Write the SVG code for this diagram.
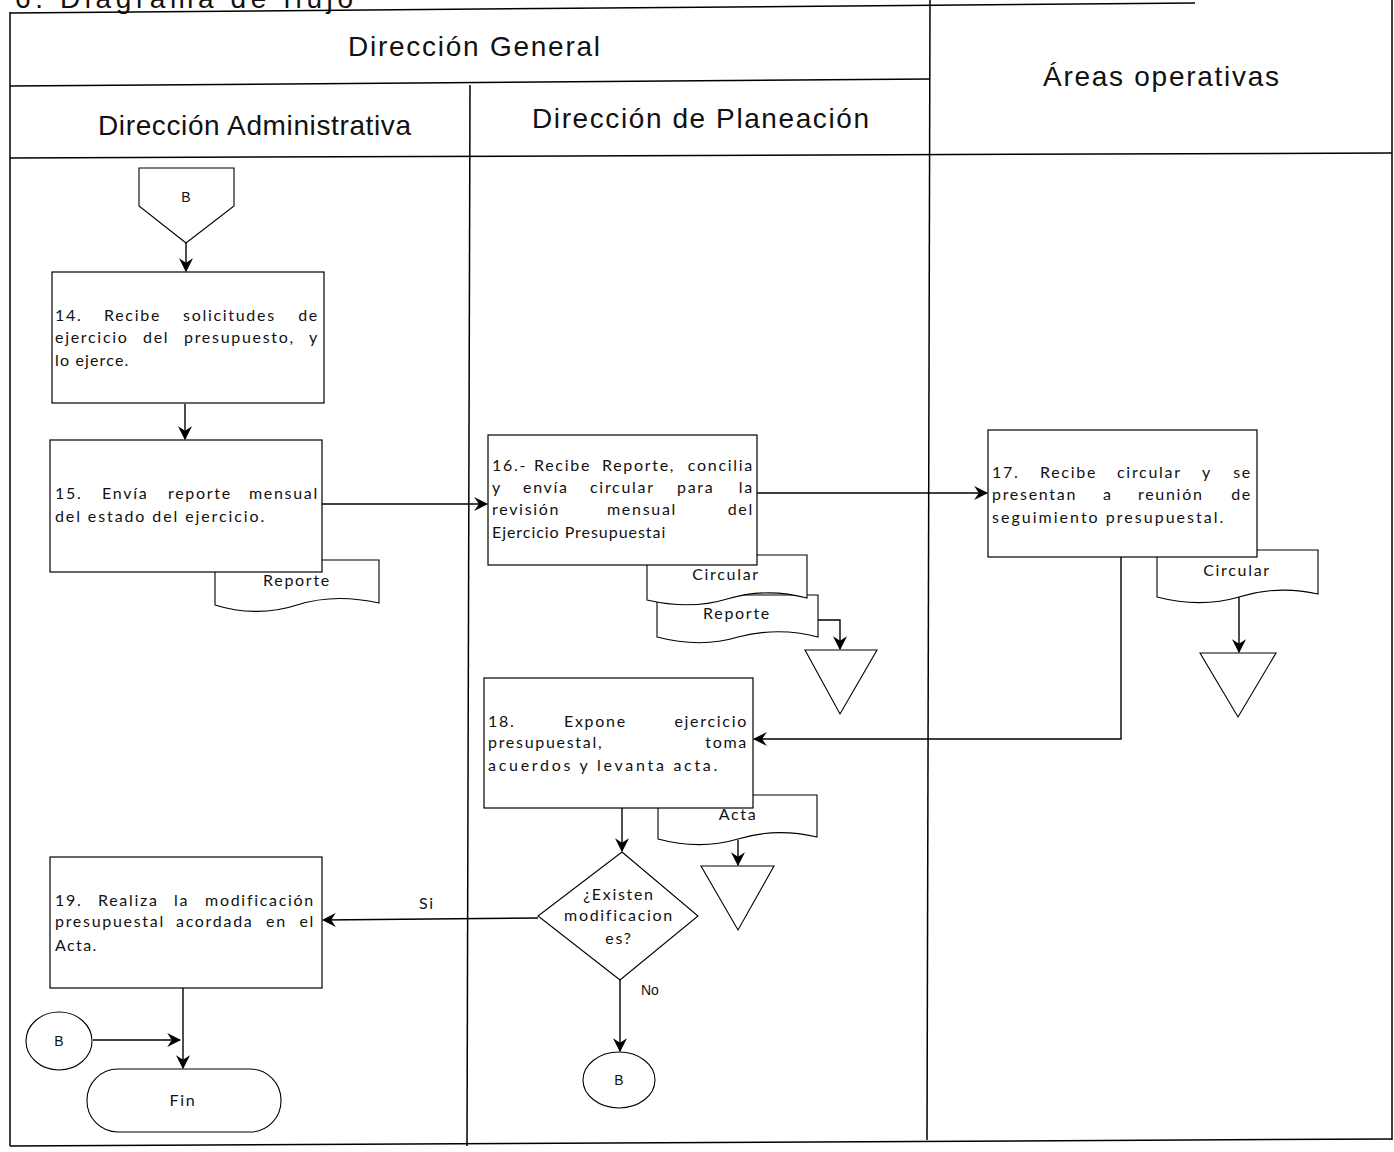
<svg xmlns="http://www.w3.org/2000/svg" width="1394" height="1152" viewBox="0 0 1394 1152">
  <defs>
    <marker id="arrow" viewBox="0 0 12 12" markerWidth="14" markerHeight="14" refX="11" refY="6" orient="auto" markerUnits="userSpaceOnUse">
      <path d="M0,0 L12,6 L0,12 L4,6 Z" fill="#000"/>
    </marker>
    <style>
      .frame { stroke: #000; stroke-width: 1.5; fill: none; }
      .box { stroke: #000; stroke-width: 1.2; fill: #fff; }
      .shape { stroke: #000; stroke-width: 1.1; fill: #fff; }
      .conn { stroke: #000; stroke-width: 1.4; fill: none; }
      .arr { marker-end: url(#arrow); }
      .head { font-family: "Liberation Sans", Arial, sans-serif; font-size: 28px; fill: #111; }
      .body { font-family: Lato, "Open Sans", sans-serif; font-size: 16px; letter-spacing: 1.7px; fill: #111; }
      .lbl { font-family: "Liberation Sans", Arial, sans-serif; font-size: 14px; fill: #111; }
      .mid { text-anchor: middle; }
      .end { text-anchor: end; }
    </style>
  </defs>

  <!-- swimlane frame -->
  <g id="lanes">
    <text class="head" x="15" y="8" font-size="32" textLength="338" lengthAdjust="spacing">6. Diagrama de flujo</text>
    <line class="frame" x1="10" y1="13" x2="1195" y2="3"/>
    <line class="frame" x1="10" y1="86" x2="930" y2="79"/>
    <line class="frame" x1="10" y1="158" x2="1392" y2="153"/>
    <line class="frame" x1="10" y1="12" x2="10" y2="1146"/>
    <line class="frame" x1="470" y1="85" x2="467" y2="1146"/>
    <line class="frame" x1="930" y1="0" x2="927" y2="1140"/>
    <line class="frame" x1="1392" y1="0" x2="1392" y2="1140"/>
    <line class="frame" x1="10" y1="1146" x2="1392" y2="1139"/>
    <text class="head mid" x="474" y="56" textLength="252" lengthAdjust="spacing">Dirección General</text>
    <text class="head mid" x="1161" y="86" textLength="236" lengthAdjust="spacing">Áreas operativas</text>
    <text class="head" x="98" y="135" textLength="313" lengthAdjust="spacing">Dirección Administrativa</text>
    <text class="head" x="532" y="128" textLength="337" lengthAdjust="spacing">Dirección de Planeación</text>
  </g>

  <!-- connectors -->
  <g id="connectors">
    <line class="conn arr" x1="186" y1="243" x2="186" y2="271"/>
    <line class="conn arr" x1="185" y1="404" x2="185" y2="439"/>
    <line class="conn arr" x1="322" y1="504" x2="487" y2="504"/>
    <line class="conn arr" x1="757" y1="493" x2="987" y2="493"/>
    <polyline class="conn arr" points="818,620 840,620 840,649"/>
    <line class="conn arr" x1="1239" y1="597" x2="1239" y2="652"/>
    <polyline class="conn arr" points="1121,557 1121,739 754,739"/>
    <line class="conn arr" x1="738" y1="840" x2="738" y2="865"/>
    <line class="conn arr" x1="622" y1="808" x2="622" y2="851"/>
    <line class="conn arr" x1="538" y1="918" x2="323" y2="920"/>
    <line class="conn arr" x1="620" y1="980" x2="620" y2="1051"/>
    <line class="conn arr" x1="183" y1="988" x2="183" y2="1068"/>
    <line class="conn arr" x1="93" y1="1040" x2="180" y2="1040"/>
    <text class="body" x="419" y="909">Si</text>
    <text class="lbl" x="641" y="995" font-size="15">No</text>
  </g>

  <!-- off-page connector B (entry) -->
  <g id="connector-b-in">
    <path class="shape" d="M139,168 H234 V206 L186,243 L139,206 Z"/>
    <text class="lbl mid" x="186" y="202" font-size="14">B</text>
  </g>

  <!-- step 14 -->
  <g id="step14">
    <rect class="box" x="52" y="272" width="272" height="131"/>
    <text class="body" y="321"><tspan x="55">14.</tspan><tspan x="104">Recibe</tspan><tspan x="183">solicitudes</tspan><tspan x="319" class="end">de</tspan></text>
    <text class="body" y="343"><tspan x="55">ejercicio</tspan><tspan x="143">del</tspan><tspan x="184">presupuesto,</tspan><tspan x="319" class="end">y</tspan></text>
    <text class="body" x="55" y="366" textLength="75" lengthAdjust="spacing">lo ejerce.</text>
  </g>

  <!-- document produced by step 15 -->
  <g id="doc-reporte-15">
    <path class="shape" d="M215,560 H379 V603 C352,597 322,597 297,605 C270,614 240,613 215,605 Z"/>
    <text class="body mid" x="297" y="586">Reporte</text>
  </g>

  <!-- step 15 -->
  <g id="step15">
    <rect class="box" x="50" y="440" width="272" height="132"/>
    <text class="body" y="499"><tspan x="55">15.</tspan><tspan x="102">Envía</tspan><tspan x="168">reporte</tspan><tspan x="319" class="end">mensual</tspan></text>
    <text class="body" x="55" y="522" textLength="211" lengthAdjust="spacing">del estado del ejercicio.</text>
  </g>

  <!-- documents produced by step 16 -->
  <g id="doc-reporte-16">
    <path class="shape" d="M657,595 H818 V637 C792,630 765,630 738,637 C712,645 684,644 657,637 Z"/>
    <text class="body mid" x="737" y="619">Reporte</text>
  </g>
  <g id="doc-circular-16">
    <path class="shape" d="M647,555 H807 V598 C781,591 754,591 727,599 C701,607 673,606 647,600 Z"/>
    <text class="body mid" x="726" y="580">Circular</text>
  </g>

  <!-- step 16 -->
  <g id="step16">
    <rect class="box" x="488" y="435" width="269" height="130"/>
    <text class="body" y="471"><tspan x="492">16.-</tspan><tspan x="534">Recibe</tspan><tspan x="602">Reporte,</tspan><tspan x="754" class="end">concilia</tspan></text>
    <text class="body" y="493"><tspan x="492">y</tspan><tspan x="523">envía</tspan><tspan x="590">circular</tspan><tspan x="677">para</tspan><tspan x="754" class="end">la</tspan></text>
    <text class="body" y="515"><tspan x="492">revisión</tspan><tspan x="607">mensual</tspan><tspan x="754" class="end">del</tspan></text>
    <text class="body" x="492" y="538" textLength="175" lengthAdjust="spacing">Ejercicio Presupuestai</text>
  </g>

  <!-- archive after step 16 -->
  <g id="archive-16">
    <path class="shape" d="M805,650 H877 L840,714 Z"/>
  </g>

  <!-- document produced by step 17 -->
  <g id="doc-circular-17">
    <path class="shape" d="M1157,550 H1318 V594 C1292,588 1265,589 1239,597 C1212,605 1184,604 1157,597 Z"/>
    <text class="body mid" x="1237" y="576">Circular</text>
  </g>

  <!-- step 17 -->
  <g id="step17">
    <rect class="box" x="988" y="430" width="269" height="127"/>
    <text class="body" y="478"><tspan x="992">17.</tspan><tspan x="1040">Recibe</tspan><tspan x="1117">circular</tspan><tspan x="1202">y</tspan><tspan x="1252" class="end">se</tspan></text>
    <text class="body" y="500"><tspan x="992">presentan</tspan><tspan x="1103">a</tspan><tspan x="1138">reunión</tspan><tspan x="1252" class="end">de</tspan></text>
    <text class="body" x="992" y="523" textLength="233" lengthAdjust="spacing">seguimiento presupuestal.</text>
  </g>

  <!-- archive after step 17 -->
  <g id="archive-17">
    <path class="shape" d="M1200,653 H1276 L1238,717 Z"/>
  </g>

  <!-- document produced by step 18 -->
  <g id="doc-acta">
    <path class="shape" d="M658,795 H817 V837 C791,831 764,831 738,839 C711,847 684,846 658,839 Z"/>
    <text class="body mid" x="738" y="820">Acta</text>
  </g>

  <!-- step 18 -->
  <g id="step18">
    <rect class="box" x="484" y="678" width="269" height="130"/>
    <text class="body" y="727"><tspan x="488">18.</tspan><tspan x="564">Expone</tspan><tspan x="748" class="end">ejercicio</tspan></text>
    <text class="body" y="748"><tspan x="488">presupuestal,</tspan><tspan x="748" class="end">toma</tspan></text>
    <text class="body" x="488" y="771" textLength="231" lengthAdjust="spacing">acuerdos y levanta acta.</text>
  </g>

  <!-- archive after step 18 -->
  <g id="archive-18">
    <path class="shape" d="M701,866 H774 L738,930 Z"/>
  </g>

  <!-- decision -->
  <g id="decision">
    <path class="shape" d="M622,852 L698,916 L620,980 L538,916 Z"/>
    <text class="body mid" x="619" y="900">¿Existen</text>
    <text class="body mid" x="619" y="921">modificacion</text>
    <text class="body mid" x="619" y="944">es?</text>
  </g>

  <!-- step 19 -->
  <g id="step19">
    <rect class="box" x="50" y="857" width="272" height="131"/>
    <text class="body" y="906"><tspan x="55">19.</tspan><tspan x="98">Realiza</tspan><tspan x="174">la</tspan><tspan x="315" class="end">modificación</tspan></text>
    <text class="body" y="927"><tspan x="55">presupuestal</tspan><tspan x="176">acordada</tspan><tspan x="266">en</tspan><tspan x="315" class="end">el</tspan></text>
    <text class="body" x="55" y="951" textLength="43" lengthAdjust="spacing">Acta.</text>
  </g>

  <!-- connector B (return) -->
  <g id="connector-b-left">
    <ellipse class="shape" cx="59" cy="1041" rx="33" ry="29"/>
    <text class="lbl mid" x="59" y="1046" font-size="14">B</text>
  </g>

  <!-- connector B (exit) -->
  <g id="connector-b-out">
    <ellipse class="shape" cx="619" cy="1080" rx="36" ry="28"/>
    <text class="lbl mid" x="619" y="1085" font-size="14">B</text>
  </g>

  <!-- end -->
  <g id="fin">
    <rect class="shape" x="87" y="1069" width="194" height="63" rx="31" ry="31"/>
    <text class="body mid" x="183" y="1106">Fin</text>
  </g>
</svg>
